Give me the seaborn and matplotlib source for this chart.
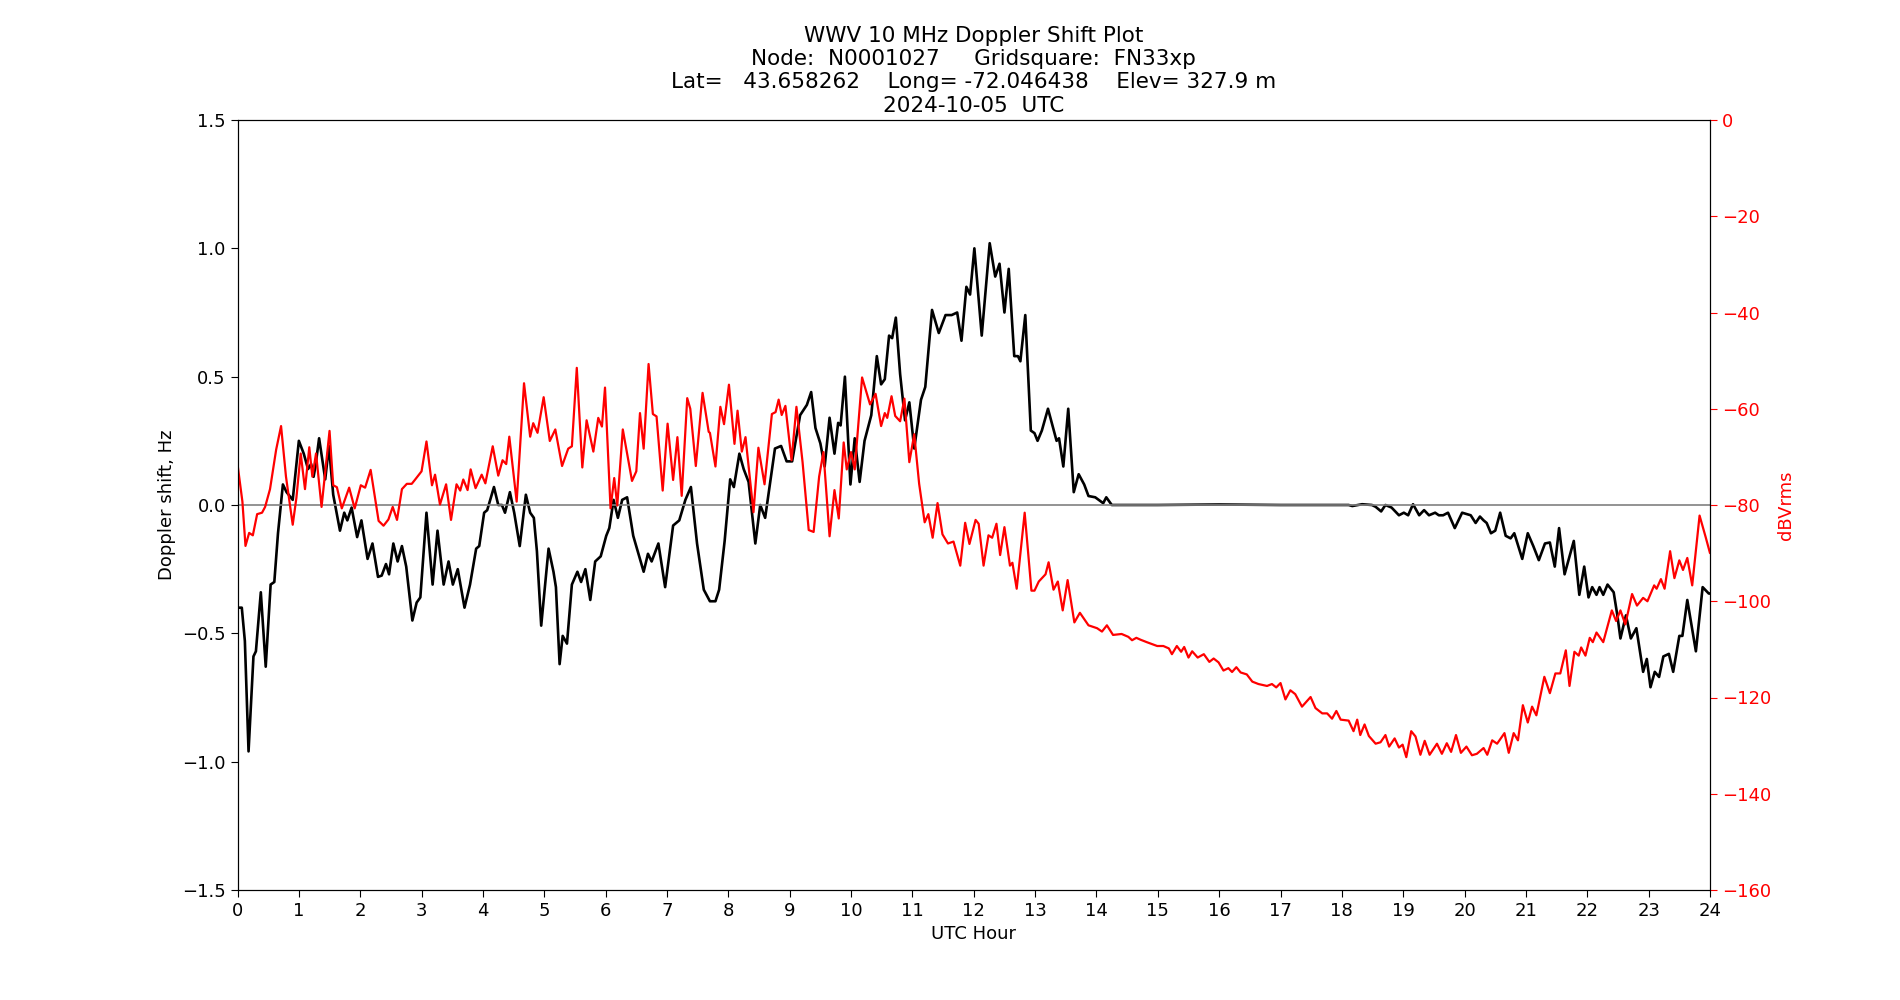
import numpy as np
import pandas as pd
import seaborn as sns
import matplotlib
matplotlib.use("Agg")
import matplotlib.pyplot as plt

# ---------------------------------------
# Data
# ---------------------------------------

doppler_hours = [
    0.00, 0.07, 0.12, 0.18, 0.26, 0.30, 0.38, 0.46, 0.54, 0.60, 0.66, 0.74, 0.80, 0.90,
    1.00, 1.08, 1.15, 1.20, 1.24, 1.27, 1.33, 1.43, 1.49, 1.56, 1.67, 1.74, 1.79, 1.86, 1.95,
    2.02, 2.12, 2.20, 2.29, 2.35, 2.42, 2.47, 2.54, 2.61, 2.68, 2.75, 2.85, 2.92, 2.98,
    3.08, 3.18, 3.26, 3.36, 3.44, 3.51, 3.59, 3.70, 3.79, 3.89, 3.94,
    4.02, 4.07, 4.18, 4.25, 4.31, 4.36, 4.44, 4.51, 4.60, 4.70, 4.77, 4.83, 4.88, 4.95,
    5.07, 5.15, 5.19, 5.25, 5.30, 5.37, 5.45, 5.54, 5.60, 5.67, 5.75, 5.83, 5.92,
    6.01, 6.06, 6.13, 6.20, 6.27, 6.35, 6.45, 6.62, 6.69, 6.75, 6.86, 6.97,
    7.10, 7.20, 7.30, 7.39, 7.49, 7.60, 7.70, 7.79, 7.85, 7.94,
    8.03, 8.09, 8.18, 8.25, 8.33, 8.44, 8.52, 8.60, 8.76, 8.86, 8.95,
    9.04, 9.17, 9.28, 9.35, 9.42, 9.50, 9.57, 9.65, 9.73, 9.79, 9.83, 9.90, 9.99,
    10.06, 10.14, 10.22, 10.33, 10.42, 10.49, 10.55, 10.62, 10.67, 10.73, 10.80, 10.88, 10.95,
    11.03, 11.14, 11.21, 11.32, 11.43, 11.54, 11.64, 11.73, 11.80, 11.88, 11.94,
    12.01, 12.13, 12.26, 12.35, 12.42, 12.50, 12.57, 12.66, 12.72, 12.76, 12.84, 12.93, 12.99,
    13.04, 13.11, 13.21, 13.35, 13.39, 13.46, 13.54, 13.63, 13.71, 13.80, 13.87, 13.98,
    14.11, 14.16, 14.25, 15.00, 16.00, 17.00, 18.11, 18.17, 18.33, 18.49, 18.55, 18.64, 18.71,
    18.81, 18.93, 19.01, 19.08, 19.16, 19.26, 19.34, 19.42, 19.52, 19.58, 19.65, 19.73, 19.84,
    19.96, 20.10, 20.18, 20.25, 20.31, 20.36, 20.43, 20.50, 20.58, 20.67, 20.75, 20.81, 20.94,
    21.03, 21.12, 21.21, 21.31, 21.39, 21.47, 21.54, 21.63, 21.70, 21.78, 21.87, 21.95,
    22.02, 22.08, 22.15, 22.20, 22.26, 22.33, 22.43, 22.49, 22.54, 22.63, 22.71, 22.80, 22.91, 22.97,
    23.03, 23.10, 23.17, 23.24, 23.33, 23.40, 23.50, 23.55, 23.63, 23.77, 23.88, 23.98, 24.00,
]
doppler_hz = [
    -0.40, -0.40, -0.53, -0.96, -0.59, -0.57, -0.34, -0.63, -0.31, -0.30, -0.11, 0.08, 0.05, 0.02,
    0.25, 0.20, 0.14, 0.16, 0.11, 0.15, 0.26, 0.10, 0.23, 0.04, -0.10, -0.03, -0.06, -0.01, -0.125,
    -0.06, -0.21, -0.15, -0.28, -0.275, -0.23, -0.27, -0.15, -0.22, -0.16, -0.24, -0.45, -0.38, -0.36,
    -0.03, -0.31, -0.10, -0.31, -0.22, -0.31, -0.25, -0.40, -0.31, -0.17, -0.16,
    -0.03, -0.02, 0.07, 0.00, 0.00, -0.03, 0.05, -0.03, -0.16, 0.04, -0.03, -0.05, -0.18, -0.47,
    -0.17, -0.26, -0.32, -0.62, -0.51, -0.54, -0.31, -0.26, -0.30, -0.25, -0.37, -0.22, -0.20,
    -0.12, -0.09, 0.02, -0.05, 0.02, 0.03, -0.12, -0.26, -0.19, -0.22, -0.15, -0.32,
    -0.08, -0.06, 0.02, 0.07, -0.15, -0.33, -0.375, -0.375, -0.33, -0.14,
    0.10, 0.07, 0.20, 0.14, 0.09, -0.15, 0.00, -0.05, 0.22, 0.23, 0.17,
    0.17, 0.35, 0.39, 0.44, 0.30, 0.24, 0.15, 0.34, 0.20, 0.32, 0.31, 0.50, 0.08,
    0.26, 0.09, 0.25, 0.35, 0.58, 0.47, 0.49, 0.66, 0.65, 0.73, 0.51, 0.33, 0.40,
    0.22, 0.41, 0.46, 0.76, 0.67, 0.74, 0.74, 0.75, 0.64, 0.85, 0.82,
    1.00, 0.66, 1.02, 0.89, 0.94, 0.75, 0.92, 0.58, 0.58, 0.56, 0.74, 0.29, 0.28,
    0.25, 0.29, 0.375, 0.25, 0.26, 0.15, 0.375, 0.05, 0.12, 0.08, 0.035, 0.03,
    0.007, 0.03, 0.00, 0.00, 0.002, 0.00, 0.00, -0.004, 0.003, 0.00, -0.007, -0.025, 0.00,
    -0.01, -0.04, -0.03, -0.04, 0.003, -0.04, -0.02, -0.04, -0.03, -0.04, -0.04, -0.03, -0.09,
    -0.03, -0.04, -0.07, -0.045, -0.06, -0.07, -0.11, -0.10, -0.03, -0.12, -0.13, -0.11, -0.21,
    -0.11, -0.16, -0.215, -0.15, -0.146, -0.24, -0.09, -0.27, -0.21, -0.14, -0.35, -0.24,
    -0.36, -0.32, -0.35, -0.32, -0.35, -0.31, -0.34, -0.43, -0.52, -0.43, -0.52, -0.48, -0.65, -0.60,
    -0.71, -0.65, -0.67, -0.59, -0.58, -0.65, -0.51, -0.51, -0.37, -0.57, -0.32, -0.345, -0.345,
]

level_hours = [
    0.00, 0.08, 0.13, 0.19, 0.25, 0.32, 0.40, 0.45, 0.53, 0.63, 0.71, 0.79, 0.90, 0.96,
    1.03, 1.10, 1.17, 1.22, 1.28, 1.37, 1.50, 1.56, 1.62, 1.70, 1.82, 1.91,
    2.01, 2.08, 2.17, 2.30, 2.38, 2.46, 2.53, 2.60, 2.68, 2.76, 2.84, 2.89,
    3.00, 3.08, 3.17, 3.22, 3.30, 3.40, 3.48, 3.57, 3.63, 3.68, 3.75, 3.80, 3.88, 3.98,
    4.04, 4.16, 4.25, 4.32, 4.38, 4.43, 4.55, 4.67, 4.77, 4.82, 4.89, 4.99,
    5.09, 5.18, 5.29, 5.39, 5.45, 5.53, 5.62, 5.69, 5.80, 5.88, 5.94, 5.99,
    6.08, 6.14, 6.19, 6.28, 6.35, 6.43, 6.50, 6.56, 6.62, 6.70, 6.77, 6.83, 6.93,
    7.01, 7.10, 7.17, 7.24, 7.33, 7.38, 7.47, 7.58, 7.68, 7.70, 7.79, 7.87, 7.93,
    8.01, 8.10, 8.15, 8.22, 8.28, 8.41, 8.49, 8.59, 8.71, 8.77, 8.82, 8.87, 8.93,
    9.03, 9.11, 9.21, 9.31, 9.39, 9.48, 9.55, 9.65, 9.73, 9.80, 9.88, 9.93,
    10.00, 10.06, 10.18, 10.31, 10.40, 10.49, 10.55, 10.59, 10.66, 10.72, 10.80, 10.87, 10.95,
    11.03, 11.11, 11.20, 11.26, 11.33, 11.41, 11.49, 11.58, 11.67, 11.78, 11.86, 11.93,
    12.03, 12.08, 12.16, 12.24, 12.30, 12.37, 12.43, 12.50, 12.59, 12.63, 12.70, 12.83, 12.94, 12.99,
    13.06, 13.17, 13.22, 13.30, 13.37, 13.45, 13.53, 13.64, 13.73, 13.87,
    14.01, 14.09, 14.17, 14.27, 14.41, 14.52, 14.58, 14.65, 14.72, 14.82, 14.99,
    15.09, 15.18, 15.23, 15.31, 15.38, 15.43, 15.50, 15.56, 15.65, 15.75, 15.84, 15.91, 15.99,
    16.07, 16.15, 16.21, 16.28, 16.35, 16.45, 16.54, 16.64, 16.78, 16.86, 16.93,
    17.00, 17.08, 17.16, 17.24, 17.35, 17.49, 17.57, 17.68, 17.76, 17.84, 17.91, 17.98,
    18.11, 18.19, 18.25, 18.30, 18.37, 18.44, 18.55, 18.63, 18.71, 18.77, 18.86, 18.93, 18.99,
    19.05, 19.13, 19.20, 19.28, 19.35, 19.43, 19.55, 19.63, 19.71, 19.78, 19.86, 19.94,
    20.03, 20.12, 20.20, 20.31, 20.37, 20.45, 20.53, 20.65, 20.72, 20.80, 20.87, 20.95,
    21.03, 21.10, 21.17, 21.30, 21.39, 21.48, 21.56, 21.65, 21.71, 21.79, 21.86, 21.90, 21.97,
    22.04, 22.09, 22.15, 22.26, 22.40, 22.47, 22.54, 22.62, 22.73, 22.81, 22.91, 22.98,
    23.09, 23.13, 23.20, 23.26, 23.35, 23.42, 23.50, 23.56, 23.63, 23.71, 23.83, 23.93, 24.00,
]
level_dbv = [
    -71.5, -79.3, -88.5, -85.8, -86.3, -81.9, -81.6, -80.4, -76.7, -68.5, -63.6, -74.1, -84.1, -78.5,
    -69.3, -76.7, -68.0, -74.1, -69.3, -80.4, -64.6, -75.9, -76.3, -80.7, -76.4, -80.7,
    -75.9, -76.4, -72.7, -83.3, -84.3, -83.0, -80.4, -83.1, -76.7, -75.6, -75.6, -74.8,
    -73.0, -66.8, -75.9, -73.7, -79.9, -75.7, -83.1, -75.7, -77.0, -74.7, -76.9, -72.6, -76.5, -73.7,
    -75.5, -67.8, -73.9, -70.7, -71.5, -65.8, -79.3, -54.7, -65.8, -63.0, -65.0, -57.6,
    -66.7, -64.3, -71.9, -68.3, -67.8, -51.5, -72.2, -62.4, -68.9, -61.9, -63.7, -55.6,
    -80.7, -74.4, -80.1, -64.3, -69.3, -75.0, -73.0, -60.9, -68.3, -50.7, -61.1, -61.6, -77.0,
    -63.1, -74.8, -65.9, -78.1, -57.8, -60.0, -71.9, -56.7, -64.8, -65.0, -72.0, -59.6, -63.2,
    -55.0, -67.3, -60.4, -68.9, -65.9, -81.5, -68.1, -75.7, -61.1, -60.7, -58.1, -61.3, -59.4,
    -70.7, -59.6, -71.1, -85.2, -85.6, -74.1, -69.0, -86.5, -76.9, -82.8, -67.0, -72.6,
    -69.0, -72.6, -53.5, -59.1, -56.9, -63.6, -60.9, -61.9, -57.4, -61.5, -62.6, -57.9, -71.1,
    -65.3, -75.6, -83.6, -81.9, -86.8, -79.6, -86.1, -88.0, -87.6, -92.6, -83.7, -88.1,
    -83.1, -83.9, -92.6, -86.3, -86.8, -83.9, -90.4, -84.6, -92.6, -92.0, -97.4, -81.6, -97.8, -97.8,
    -95.9, -94.4, -91.9, -97.6, -95.9, -101.9, -95.6, -104.4, -102.4, -105.0,
    -105.6, -106.3, -105.0, -107.0, -106.8, -107.4, -108.1, -107.6, -108.0, -108.5, -109.3,
    -109.3, -109.8, -111.0, -109.3, -110.5, -109.5, -111.7, -110.4, -111.7, -111.0, -112.6, -111.9, -112.7,
    -114.4, -113.9, -114.7, -113.7, -114.8, -115.2, -116.7, -117.2, -117.6, -117.2, -117.9,
    -117.0, -120.4, -118.5, -119.3, -121.9, -119.9, -122.2, -123.3, -123.3, -124.4, -122.8, -124.6,
    -124.8, -127.0, -124.6, -127.8, -125.6, -128.0, -129.6, -129.3, -127.8, -130.2, -128.5, -130.4, -129.8,
    -132.4, -127.0, -128.1, -131.9, -129.0, -131.9, -129.6, -131.7, -129.5, -131.3, -127.8, -131.5,
    -130.2, -132.0, -131.7, -130.5, -131.9, -128.9, -129.6, -127.4, -131.5, -127.4, -128.9, -121.6,
    -125.2, -121.9, -123.7, -115.7, -119.1, -115.0, -115.0, -110.2, -117.6, -110.5, -111.3, -109.6, -111.3,
    -107.6, -108.5, -106.5, -108.5, -101.9, -104.1, -101.9, -104.8, -98.5, -100.9, -99.3, -100.0,
    -96.7, -97.4, -95.4, -97.4, -89.6, -95.2, -91.5, -93.5, -91.0, -96.7, -82.2, -86.7, -90.0,
]

title_lines = [
    "WWV 10 MHz Doppler Shift Plot",
    "Node:  N0001027     Gridsquare:  FN33xp",
    "Lat=   43.658262    Long= -72.046438    Elev= 327.9 m",
    "2024-10-05  UTC",
]

df_dop = pd.DataFrame({"hour": doppler_hours, "shift": doppler_hz})
df_lvl = pd.DataFrame({"hour": level_hours, "dbv": level_dbv})

# ---------------------------------------
# Plot
# ---------------------------------------

sns.set_style("ticks", {"text.color": "black", "axes.labelcolor": "black",
                        "xtick.color": "black", "ytick.color": "black",
                        "axes.edgecolor": "black"})
plt.rcParams["font.family"] = ["DejaVu Sans"]
plt.rcParams["font.size"] = 13

fig, ax = plt.subplots(figsize=(19, 10), dpi=100)
fig.subplots_adjust(left=0.125, right=0.9, bottom=0.11, top=0.88)

sns.lineplot(data=df_dop, x="hour", y="shift", ax=ax, color="black",
             linewidth=1.9, estimator=None, sort=False,
             solid_joinstyle="round", solid_capstyle="round")
ax.axhline(0, color="gray", linewidth=1.2)
ax.set_xlim(0, 24)
ax.set_ylim(-1.5, 1.5)
ax.set_xticks(range(0, 25))
ax.set_yticks(np.arange(-1.5, 1.51, 0.5))
ax.set_xlabel("UTC Hour", fontsize=13)
ax.set_ylabel("Doppler shift, Hz", fontsize=13)
ax.tick_params(labelsize=13, direction="out", length=5, color="black", labelcolor="black")

ax2 = ax.twinx()
sns.lineplot(data=df_lvl, x="hour", y="dbv", ax=ax2, color="red",
             linewidth=1.6, estimator=None, sort=False,
             solid_joinstyle="round", solid_capstyle="round")
ax2.set_ylim(-160, 0)
ax2.set_yticks(range(-160, 1, 20))
ax2.set_ylabel("dBVrms", color="red", fontsize=13)
ax2.tick_params(axis="y", colors="red", labelsize=13, length=5)
ax2.spines["right"].set_color("black")
ax2.set_xlim(0, 24)

ax.set_title("\n".join(title_lines), fontsize=15.5, color="black")

fig.savefig("out.png", dpi=100)
